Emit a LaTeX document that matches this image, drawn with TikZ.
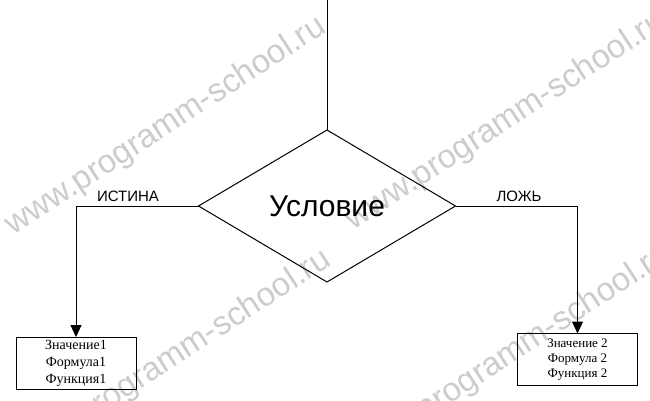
\documentclass[tikz,border=0pt]{standalone}
\usepackage{fontspec}
\setmainfont{Liberation Serif}
\setsansfont{Liberation Sans}
\usepackage{tikz}
\usetikzlibrary{shapes,arrows.meta,positioning}

\begin{document}
\begin{tikzpicture}[
            x=1pt, y=-1pt,
            line width=1pt,
            >={Triangle[length=12pt,width=11pt]},
            decision/.style={diamond, draw, minimum width=257pt, minimum height=152pt,
              inner sep=0pt, outer sep=0pt, font=\sffamily\fontsize{30}{36}\selectfont},
            result/.style={rectangle, draw, minimum width=120pt, minimum height=52pt,
              inner sep=0pt, outer sep=0pt, align=center},
            branch/.style={font=\sffamily\fontsize{15}{18}\selectfont},
            stamp/.style={rotate=33, text=black!20, font=\sffamily\fontsize{33}{38}\selectfont}
          ]

          \useasboundingbox (0,0) rectangle (650,401);

          % Watermarks
          \node[stamp] (wm1) at (166,126) {www.programm-school.ru};
          \node[stamp] (wm2) at (506,121) {www.programm-school.ru};
          \node[stamp] (wm3) at (171,359) {www.programm-school.ru};
          \node[stamp] (wm4) at (511,354) {www.programm-school.ru};

          % Nodes
          \coordinate (entry) at (327,0);
          \node[decision] (cond) at (327,206) {Условие};
          \node[result, font=\fontsize{14}{17}\selectfont] (box1) at (76,363) {Значение1\\Формула1\\Функция1};
          \node[result, font=\fontsize{13}{15}\selectfont] (box2) at (577.5,359.5) {Значение 2\\Формула 2\\Функция 2};
          \node[branch] (yes) at (128,196) {ИСТИНА};
          \node[branch] (no) at (519,196) {ЛОЖЬ};

          % Edges
          \draw (entry) -- (cond.north);
          \draw[->] (cond.west) -| (box1.north);
          \draw[->] (cond.east) -| (box2.north);

        \end{tikzpicture}
\end{document}
